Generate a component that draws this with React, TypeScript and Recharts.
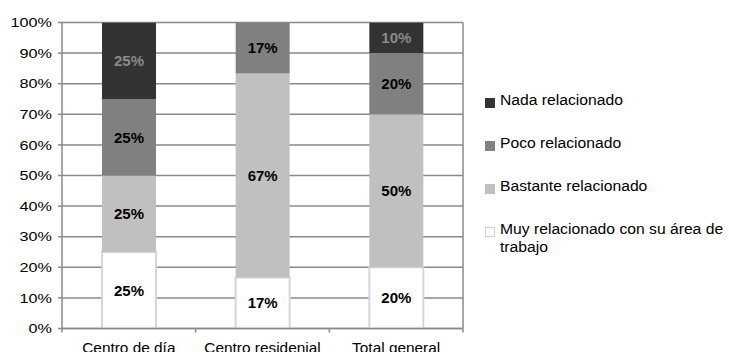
import React from 'react';
import { BarChart, Bar, XAxis, YAxis, CartesianGrid, LabelList } from 'recharts';

const categories = ['Centro de día', 'Centro residenial', 'Total general'];
const muy = [25, 16.67, 20];
const bastante = [25, 66.67, 50];
const poco = [25, 16.66, 20];
const nada = [25, 0, 10];
const yTicks = [0, 10, 20, 30, 40, 50, 60, 70, 80, 90, 100];

const series = [
  { key: 'muy', name: 'Muy relacionado con su área de trabajo', color: '#ffffff', stroke: '#d6d6d6', label: '#000000' },
  { key: 'bastante', name: 'Bastante relacionado', color: '#c0c0c0', stroke: 'none', label: '#000000' },
  { key: 'poco', name: 'Poco relacionado', color: '#808080', stroke: 'none', label: '#000000' },
  { key: 'nada', name: 'Nada relacionado', color: '#333333', stroke: 'none', label: '#8a8a8a' },
];

const data = categories.map((name, i) => ({
  name,
  muy: muy[i],
  bastante: bastante[i],
  poco: poco[i],
  nada: nada[i],
}));

const FONT = '"Liberation Sans", Arial, sans-serif';
const GRID = '#8a8a8a';

const YTick = (p: any) => (
  <g transform={`translate(${p.x},${p.y})`}>
    <text transform="scale(1.2,1)" textAnchor="end" dy="0.35em" fontSize={13.5} fontFamily={FONT} fill="#000">
      {p.payload.value}%
    </text>
  </g>
);

const XTick = (p: any) => {
  const half = p.payload.offset || 67;
  return (
    <g>
      <line x1={p.x - half} x2={p.x - half} y1={p.y - 4} y2={p.y} stroke={GRID} strokeWidth={1.5} />
      {p.index === p.visibleTicksCount - 1 && (
        <line x1={p.x + half} x2={p.x + half} y1={p.y - 4} y2={p.y} stroke={GRID} strokeWidth={1.5} />
      )}
      <g transform={`translate(${p.x},${p.y + 20})`}>
        <text transform="scale(1.1,1)" textAnchor="middle" fontSize={14} fontFamily={FONT} fill="#000">
          {p.payload.value}
        </text>
      </g>
    </g>
  );
};

const makeLabel = (color: string) => (p: any) => {
  const { x, y, width, height, value } = p;
  if (!value) return null;
  return (
    <text
      x={Number(x) + Number(width) / 2}
      y={Number(y) + Number(height) / 2}
      textAnchor="middle"
      dominantBaseline="central"
      fontSize={15}
      fontWeight="bold"
      fontFamily={FONT}
      fill={color}
    >
      {Math.round(value)}%
    </text>
  );
};

export default function App() {
  const legendItems = [...series].reverse();
  return (
    <div style={{ position: 'absolute', left: 0, top: 0, width: 729, height: 352, background: '#fff', overflow: 'hidden' }}>
      <BarChart width={729} height={352} data={data} margin={{ top: 22.5, right: 266, bottom: 0, left: 0 }}>
        <CartesianGrid
          stroke={GRID}
          strokeWidth={1.5}
          verticalCoordinatesGenerator={({ offset }: any) => [offset.left + offset.width]}
        />
        <XAxis
          dataKey="name"
          height={23.5}
          tickSize={4}
          tickMargin={0}
          tickLine={false}
          axisLine={{ stroke: GRID, strokeWidth: 1.5 }}
          tick={<XTick />}
          interval={0}
        />
        <YAxis
          width={62}
          domain={[0, 100]}
          ticks={yTicks}
          tickSize={4}
          tickMargin={6}
          tickLine={{ stroke: GRID, strokeWidth: 1.5 }}
          axisLine={{ stroke: GRID, strokeWidth: 1.5 }}
          tick={<YTick />}
          allowDataOverflow
        />
        {series.map((s) => (
          <Bar
            key={s.key}
            dataKey={s.key}
            name={s.name}
            stackId="a"
            fill={s.color}
            stroke={s.stroke}
            strokeWidth={s.stroke === 'none' ? 0 : 2}
            barSize={54}
            isAnimationActive={false}
          >
            <LabelList dataKey={s.key} content={makeLabel(s.label)} />
          </Bar>
        ))}
      </BarChart>
      <div style={{ position: 'absolute', left: 485, top: 91, fontFamily: FONT, fontSize: 14, lineHeight: '18px', color: '#000' }}>
        {legendItems.map((s) => (
          <div key={s.key} style={{ position: 'relative', marginBottom: 25, paddingLeft: 15 }}>
            <span
              style={{
                position: 'absolute',
                left: 0,
                top: 7,
                width: 10,
                height: 10,
                background: s.color,
                boxSizing: 'border-box',
                border: s.key === 'muy' ? '1px solid #d0d0d0' : 'none',
              }}
            />
            <div style={{ width: 205, transform: 'scaleX(1.12)', transformOrigin: 'left top' }}>{s.name}</div>
          </div>
        ))}
      </div>
    </div>
  );
}
